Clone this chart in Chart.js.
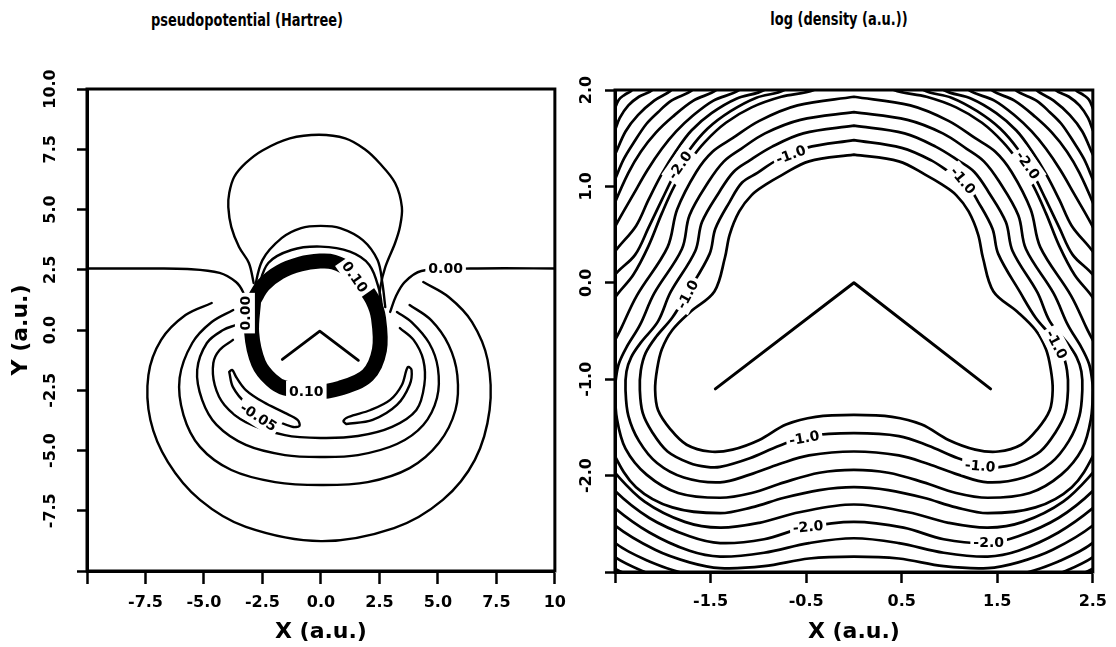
<!DOCTYPE html>
<html>
<head>
<meta charset="utf-8">
<script src="https://cdn.jsdelivr.net/npm/chart.js@4.4.0/dist/chart.umd.min.js"></script>
<style>
  body { margin: 0; background: #fff; width: 1116px; height: 647px; position: relative; overflow: hidden; }
  canvas { position: absolute; top: 0; }
  #potChart { left: 0; }
  #rhoChart { left: 575px; }
  .ttl { position: absolute; transform: translate(-50%, -50%) scaleX(0.72); font: bold 18px "DejaVu Sans", sans-serif; white-space: nowrap; color: #000; }
</style>
</head>
<body>
<div class="ttl" style="left:247px; top:19px">pseudopotential (Hartree)</div>
<div class="ttl" style="left:839px; top:18px">log (density (a.u.))</div>
<canvas id="potChart" width="575" height="647"></canvas>
<canvas id="rhoChart" width="541" height="647"></canvas>
<script>
// ---- axes ----
const potTicks = [-10, -7.5, -5, -2.5, 0, 2.5, 5, 7.5, 10];
const potXLabels = ["", "-7.5", "-5.0", "-2.5", "0.0", "2.5", "5.0", "7.5", "10"];
const potYLabels = ["", "-7.5", "-5.0", "-2.5", "0.0", "2.5", "5.0", "7.5", "10.0"];
const rhoXTicks = [-2.5, -1.5, -0.5, 0.5, 1.5, 2.5];
const rhoXLabels = ["", "-1.5", "-0.5", "0.5", "1.5", "2.5"];
const rhoYTicks = [-3, -2, -1, 0, 1, 2];
const rhoYLabels = ["", "-2.0", "-1.0", "0.0", "1.0", "2.0"];

// ---- pseudopotential contours (a.u.) ----
const potZeroLeft = [[-10.5,2.55],[-7.4,2.55],[-5.71,2.53],[-4.33,2.37],[-3.63,1.99],[-3.33,1.58],[-3.25,1.24],[-3.22,0.0]];
const potZeroRight = [[2.96,0.75],[3.21,1.41],[3.58,1.99],[4.29,2.45],[6.4,2.55],[10.5,2.55]];
const potBubble = [[-2.875,1.95],[-3.08,2.78],[-3.5,3.44],[-3.83,4.27],[-3.96,5.10],[-3.92,5.68],[-3.71,6.35],[-3.21,6.93],[-2.5,7.45],[-1.33,7.95],[-0.08,8.1],[1.04,7.95],[1.875,7.5],[2.5,6.93],[3.17,6.10],[3.46,5.10],[3.375,4.27],[3.17,3.61],[2.75,2.61],[2.54,1.78],[2.5,1.24]];
const potArcA = [[-2.875,1.54],[-2.5,2.90],[-1.67,3.82],[-0.85,4.23],[-0.01,4.32],[0.82,4.23],[1.79,3.73],[2.42,2.90],[2.625,1.95],[2.75,0.95]];
const potArcB = [[-2.72,1.66],[-2.25,2.78],[-1.26,3.32],[-0.01,3.46],[1.24,3.25],[2.07,2.70],[2.49,1.66],[2.625,0.83]];
const potRing = [[-2.875,1.24],[-2.96,-0.12],[-2.67,-1.37],[-2.125,-2.07],[-1.54,-2.41],[-0.29,-2.57],[0.83,-2.41],[2.0,-1.87],[2.5,-0.83],[2.46,0.50],[2.21,1.24],[1.79,1.85],[1.29,2.45],[0.54,2.82],[-0.04,2.86],[-0.875,2.74],[-1.75,2.41],[-2.46,1.87],[-2.875,1.24]];
const potU1 = [[-4.67,1.12],[-5.79,0.62],[-6.83,-0.41],[-7.375,-1.87],[-7.29,-3.73],[-6.54,-5.48],[-5.17,-7.05],[-3.21,-8.17],[0,-8.76],[3.125,-8.22],[5.21,-7.05],[6.58,-5.39],[7.21,-3.32],[7.125,-1.24],[6.46,0.33],[5.46,1.37],[4.375,1.99]];
const potU2 = [[-3.75,0.83],[-4.67,0.33],[-5.5,-0.54],[-6.04,-1.99],[-5.875,-3.53],[-5.17,-4.85],[-3.83,-5.81],[-1.96,-6.31],[0,-6.43],[2.0,-6.31],[3.79,-5.73],[5.04,-4.69],[5.75,-3.32],[5.83,-1.87],[5.46,-0.62],[4.71,0.41],[3.79,1.04]];
const potU3 = [[-3.625,0.21],[-4.18,0],[-4.875,-0.54],[-5.29,-1.66],[-5.08,-2.90],[-4.46,-3.94],[-3.21,-4.77],[-1.54,-5.19],[0,-5.27],[1.58,-5.19],[3.25,-4.73],[4.375,-3.94],[4.96,-2.82],[5.0,-1.58],[4.625,-0.54],[3.875,0.33],[3.25,0.75]];
const potU4 = [[-3.76,-0.41],[-4.33,-0.83],[-4.6,-1.37],[-4.54,-2.28],[-4.125,-3.11],[-3.21,-3.82],[-1.54,-4.36],[0,-4.48],[1.58,-4.40],[3.04,-4.02],[4.08,-3.32],[4.42,-2.28],[4.375,-1.24],[3.96,-0.41],[3.375,0.08]];
const potLobeL = [[-3.92,-1.74],[-3.76,-2.37],[-3.21,-3.03],[-2.25,-3.60],[-1.25,-4.01],[-0.92,-3.98],[-1.0,-3.73],[-1.54,-3.44],[-2.46,-2.99],[-3.21,-2.49],[-3.625,-1.95],[-3.79,-1.66],[-3.92,-1.74]];
const potLobeR = [[1.08,-3.90],[2.21,-3.73],[3.25,-3.11],[3.79,-2.28],[3.875,-1.66],[3.71,-1.54],[3.46,-2.28],[2.96,-2.90],[2.125,-3.32],[1.17,-3.61],[0.96,-3.78],[1.08,-3.90]];
const potMolecule = [[-1.65,-1.22],[-0.05,-0.05],[1.6,-1.26]];
const potLabels = [["0.00",5.33,2.55,0],["0.00",-3.25,0.70,-90],["0.10",1.45,2.2,55],["0.10",-0.625,-2.53,0],["-0.05",-2.67,-3.61,33]];

// ---- log density contours (a.u.) ----
const rho0 = [[0,1.33],[-0.47,1.26],[-0.75,1.12],[-0.92,1.02],[-1.07,0.91],[-1.20,0.74],[-1.30,0.50],[-1.35,0.26],[-1.46,-0.09],[-1.71,-0.30],[-1.90,-0.49],[-2.01,-0.69],[-2.06,-0.90],[-2.08,-1.11],[-2.05,-1.32],[-1.92,-1.52],[-1.75,-1.68],[-1.51,-1.75],[-1.27,-1.73],[-0.99,-1.63],[-0.71,-1.47],[-0.40,-1.39],[0,-1.37],
  [0.40,-1.39],[0.71,-1.47],[0.99,-1.63],[1.27,-1.73],[1.51,-1.75],[1.75,-1.68],[1.92,-1.52],[2.05,-1.32],[2.08,-1.11],[2.06,-0.90],[2.01,-0.69],[1.90,-0.49],[1.71,-0.30],[1.46,-0.09],[1.35,0.26],[1.30,0.50],[1.20,0.74],[1.07,0.91],[0.92,1.02],[0.75,1.12],[0.47,1.26],[0,1.33]];
const rho1 = [[0,1.48],[-0.50,1.40],[-0.81,1.27],[-1.01,1.14],[-1.17,1.04],[-1.30,0.84],[-1.45,0.56],[-1.51,0.30],[-1.74,-0.10],[-1.90,-0.36],[-2.07,-0.56],[-2.18,-0.73],[-2.23,-0.91],[-2.24,-1.11],[-2.21,-1.35],[-2.11,-1.55],[-1.95,-1.75],[-1.72,-1.87],[-1.54,-1.91],[-1.40,-1.91],[-1.09,-1.82],[-0.78,-1.69],[-0.47,-1.59],[0,-1.56],
  [0.47,-1.59],[0.78,-1.69],[1.09,-1.82],[1.40,-1.91],[1.54,-1.91],[1.72,-1.87],[1.95,-1.75],[2.11,-1.55],[2.21,-1.35],[2.24,-1.11],[2.23,-0.91],[2.18,-0.73],[2.07,-0.56],[1.90,-0.36],[1.74,-0.10],[1.51,0.30],[1.45,0.56],[1.30,0.84],[1.17,1.04],[1.01,1.14],[0.81,1.27],[0.50,1.40],[0,1.48]];
const rho2 = [[0,1.63],[-0.53,1.55],[-0.86,1.41],[-1.09,1.27],[-1.26,1.15],[-1.41,0.94],[-1.59,0.63],[-1.66,0.33],[-1.92,-0.10],[-2.05,-0.40],[-2.23,-0.62],[-2.33,-0.77],[-2.38,-0.92],[-2.39,-1.11],[-2.36,-1.38],[-2.25,-1.64],[-2.06,-1.87],[-1.78,-2.02],[-1.40,-2.07],[-1.09,-1.99],[-0.78,-1.88],[-0.47,-1.79],[0,-1.75],
  [0.47,-1.79],[0.78,-1.88],[1.09,-1.99],[1.40,-2.07],[1.78,-2.02],[2.06,-1.87],[2.25,-1.64],[2.36,-1.38],[2.39,-1.11],[2.38,-0.92],[2.33,-0.77],[2.23,-0.62],[2.05,-0.40],[1.92,-0.10],[1.66,0.33],[1.59,0.63],[1.41,0.94],[1.26,1.15],[1.09,1.27],[0.86,1.41],[0.53,1.55],[0,1.63]];
const rho3 = [[0,1.77],[-0.56,1.69],[-0.93,1.55],[-1.18,1.39],[-1.36,1.26],[-1.52,1.05],[-1.72,0.70],[-1.80,0.35],[-2.09,-0.11],[-2.24,-0.44],[-2.38,-0.67],[-2.46,-0.84],[-2.49,-0.99],[-2.50,-1.11],[-2.48,-1.41],[-2.39,-1.72],[-2.17,-1.99],[-1.84,-2.18],[-1.40,-2.23],[-1.07,-2.18],[-0.73,-2.07],[-0.36,-1.97],[0,-1.94],
  [0.36,-1.97],[0.73,-2.07],[1.07,-2.18],[1.40,-2.23],[1.84,-2.18],[2.17,-1.99],[2.39,-1.72],[2.48,-1.41],[2.50,-1.11],[2.49,-0.99],[2.46,-0.84],[2.38,-0.67],[2.24,-0.44],[2.09,-0.11],[1.80,0.35],[1.72,0.70],[1.52,1.05],[1.36,1.26],[1.18,1.39],[0.93,1.55],[0.56,1.69],[0,1.77]];
const rho4 = [[0,1.93],[-0.59,1.84],[-0.99,1.68],[-1.27,1.50],[-1.48,1.36],[-1.65,1.15],[-1.85,0.76],[-1.95,0.37],[-2.27,-0.13],[-2.43,-0.46],[-2.59,-0.80],[-2.66,-1.16],[-2.59,-1.52],[-2.51,-1.78],[-2.28,-2.12],[-1.90,-2.33],[-1.40,-2.39],[-1.07,-2.33],[-0.73,-2.23],[-0.36,-2.15],[0,-2.12],
  [0.36,-2.15],[0.73,-2.23],[1.07,-2.33],[1.40,-2.39],[1.90,-2.33],[2.28,-2.12],[2.51,-1.78],[2.59,-1.52],[2.66,-1.16],[2.59,-0.80],[2.43,-0.46],[2.27,-0.13],[1.95,0.37],[1.85,0.76],[1.65,1.15],[1.48,1.36],[1.27,1.50],[0.99,1.68],[0.59,1.84],[0,1.93]];
const rho5 = [[-0.31,2.11],[-0.42,2.0],[-0.76,1.93],[-1.07,1.82],[-1.34,1.66],[-1.56,1.46],[-1.72,1.26],[-1.875,1.01],[-2.01,0.72],[-2.15,0.38],[-2.31,0.08],[-2.51,-0.17],[-2.71,-0.59],[-2.76,-1.21],[-2.69,-1.73],[-2.51,-1.96],[-2.19,-2.27],[-1.77,-2.48],[-1.40,-2.54],[-0.99,-2.49],[-0.57,-2.38],[0,-2.30],
  [0.57,-2.38],[0.99,-2.49],[1.40,-2.54],[1.77,-2.48],[2.19,-2.27],[2.51,-1.96],[2.69,-1.73],[2.76,-1.21],[2.71,-0.59],[2.51,-0.17],[2.31,0.08],[2.15,0.38],[2.01,0.72],[1.875,1.01],[1.72,1.26],[1.56,1.46],[1.34,1.66],[1.07,1.82],[0.76,1.93],[0.42,2.0],[0.31,2.11]];
const rho6 = [[-0.68,2.11],[-0.73,2.0],[-1.02,1.92],[-1.29,1.78],[-1.53,1.60],[-1.72,1.38],[-1.875,1.13],[-2.01,0.86],[-2.15,0.57],[-2.29,0.29],[-2.51,0.07],[-2.76,-0.38],[-2.86,-1.21],[-2.76,-1.84],[-2.51,-2.15],[-2.14,-2.44],[-1.72,-2.63],[-1.40,-2.70],[-0.94,-2.66],[-0.52,-2.54],[0,-2.48],
  [0.52,-2.54],[0.94,-2.66],[1.40,-2.70],[1.72,-2.63],[2.14,-2.44],[2.51,-2.15],[2.76,-1.84],[2.86,-1.21],[2.76,-0.38],[2.51,0.07],[2.29,0.29],[2.15,0.57],[2.01,0.86],[1.875,1.13],[1.72,1.38],[1.53,1.60],[1.29,1.78],[1.02,1.92],[0.73,2.0],[0.68,2.11]];
const rho7 = [[-0.885,2.11],[-0.94,2.0],[-1.23,1.91],[-1.49,1.76],[-1.70,1.58],[-1.86,1.37],[-2.01,1.13],[-2.15,0.86],[-2.28,0.59],[-2.51,0.31],[-2.81,-0.18],[-2.97,-1.21],[-2.81,-2.04],[-2.51,-2.33],[-2.14,-2.59],[-1.72,-2.78],[-1.40,-2.84],[-0.94,-2.80],[-0.47,-2.70],[0,-2.65],
  [0.47,-2.70],[0.94,-2.80],[1.40,-2.84],[1.72,-2.78],[2.14,-2.59],[2.51,-2.33],[2.81,-2.04],[2.97,-1.21],[2.81,-0.18],[2.51,0.31],[2.28,0.59],[2.15,0.86],[2.01,1.13],[1.86,1.37],[1.70,1.58],[1.49,1.76],[1.23,1.91],[0.94,2.0],[0.885,2.11]];
const rho8 = [[-1.15,2.11],[-1.20,2.0],[-1.47,1.89],[-1.69,1.73],[-1.86,1.57],[-2.01,1.39],[-2.16,1.17],[-2.30,0.93],[-2.51,0.56],[-2.86,-0.18],[-3.02,-1.21],[-2.86,-2.15],[-2.51,-2.51],[-2.08,-2.77],[-1.72,-2.90],[-1.40,-2.96],[-0.94,-2.94],[-0.47,-2.86],[0,-2.84],
  [0.47,-2.86],[0.94,-2.94],[1.40,-2.96],[1.72,-2.90],[2.08,-2.77],[2.51,-2.51],[2.86,-2.15],[3.02,-1.21],[2.86,-0.18],[2.51,0.56],[2.30,0.93],[2.16,1.17],[2.01,1.39],[1.86,1.57],[1.69,1.73],[1.47,1.89],[1.20,2.0],[1.15,2.11]];
const rho9 = [[-1.39,2.11],[-1.44,2.0],[-1.68,1.89],[-1.90,1.72],[-2.07,1.56],[-2.23,1.36],[-2.36,1.14],[-2.51,0.81],[-2.92,-0.18],[-3.125,-1.21],[-2.92,-2.25],[-2.51,-2.69],[-2.14,-2.89],[-1.72,-3.03],[-1.20,-3.13],[-0.57,-3.10],[0,-3.08],
  [0.57,-3.10],[1.20,-3.13],[1.72,-3.03],[2.14,-2.89],[2.51,-2.69],[2.92,-2.25],[3.125,-1.21],[2.92,-0.18],[2.51,0.81],[2.36,1.14],[2.23,1.36],[2.07,1.56],[1.90,1.72],[1.68,1.89],[1.44,2.0],[1.39,2.11]];
const rho10 = [[-1.64,2.11],[-1.69,2.0],[-1.91,1.89],[-2.05,1.77],[-2.17,1.65],[-2.30,1.46],[-2.41,1.28],[-2.51,1.05],[-2.97,0.03],[-3.23,-1.21],[-2.97,-2.46],[-2.51,-2.84],[-2.19,-3.0],[-1.82,-3.13],[-0.99,-3.24],[0,-3.21],
  [0.99,-3.24],[1.82,-3.13],[2.19,-3.0],[2.51,-2.84],[2.97,-2.46],[3.23,-1.21],[2.97,0.03],[2.51,1.05],[2.41,1.28],[2.30,1.46],[2.17,1.65],[2.05,1.77],[1.91,1.89],[1.69,2.0],[1.64,2.11]];
const rho11 = [[-1.85,2.11],[-1.91,2.0],[-2.09,1.89],[-2.26,1.74],[-2.39,1.57],[-2.51,1.31],[-3.07,0.24],[-3.33,-1.21],[-3.02,-2.67],[-2.51,-2.96],[-2.36,-3.03],[-1.82,-3.24],[0,-3.34],
  [1.82,-3.24],[2.36,-3.03],[2.51,-2.96],[3.02,-2.67],[3.33,-1.21],[3.07,0.24],[2.51,1.31],[2.39,1.57],[2.26,1.74],[2.09,1.89],[1.91,2.0],[1.85,2.11]];
const rho12L = [[-2.07,2.11],[-2.11,2.0],[-2.25,1.93],[-2.36,1.84],[-2.45,1.71],[-2.51,1.56],[-2.66,1.28]];
const rho12R = [[2.07,2.11],[2.11,2.0],[2.25,1.93],[2.36,1.84],[2.45,1.71],[2.51,1.56],[2.66,1.28]];
const rho13L = [[-2.28,2.11],[-2.32,2.0],[-2.40,1.95],[-2.46,1.90],[-2.51,1.79],[-2.61,1.64]];
const rho13R = [[2.28,2.11],[2.32,2.0],[2.40,1.95],[2.46,1.90],[2.51,1.79],[2.61,1.64]];
const rhoMolecule = [[-1.45,-1.10],[0,0],[1.43,-1.10]];
const rhoLabels = [["-1.0",-0.66,1.33,-20],["-2.0",-1.82,1.22,-55],["-1.0",1.14,1.06,50],["-2.0",1.82,1.22,55],["-1.0",-1.74,-0.12,-62],["-1.0",2.12,-0.64,62],["-1.0",-0.52,-1.61,-10],["-1.0",1.32,-1.90,5],["-2.0",-0.48,-2.53,-5],["-2.0",1.41,-2.69,0]];

const fontFamily = "'DejaVu Sans', sans-serif";
const tickFont = { family: fontFamily, size: 16, weight: "bold" };
const titleFont = { family: fontFamily, size: 22, weight: "bold" };

function curve(pts, width, tension = 0.35) {
  return {
    data: pts.map(([x, y]) => ({ x, y })),
    showLine: true, fill: false, pointRadius: 0,
    borderColor: "#000", borderWidth: width,
    borderCapStyle: "round", borderJoinStyle: "round",
    tension
  };
}

function makeAxis(min, max, values, labels, o) {
  const vertical = o.position === "left";
  return {
    type: "linear", min, max, position: o.position,
    afterBuildTicks: s => { s.ticks = values.map(v => ({ value: v })); },
    afterFit: s => { if (vertical) s.width = o.size; else s.height = o.size; },
    ticks: {
      autoSkip: false, color: "#000", font: tickFont, padding: o.pad,
      minRotation: vertical ? 90 : 0, maxRotation: vertical ? 90 : 0,
      crossAlign: vertical ? "center" : "near",
      callback: (v, i) => labels[i]
    },
    grid: { drawOnChartArea: false, drawTicks: true, tickLength: o.tick, tickWidth: 2.5, tickColor: "#000" },
    border: { display: true, color: "#000", width: 3 },
    title: o.title
      ? { display: true, text: o.title, color: "#000", font: titleFont, padding: o.titlePad }
      : { display: false }
  };
}

const contourLabels = {
  id: "contourLabels",
  afterDatasetsDraw(chart, args, opts) {
    const { ctx, scales: { x, y } } = chart;
    ctx.save();
    ctx.font = "bold 14px " + fontFamily;
    ctx.textAlign = "center";
    ctx.textBaseline = "middle";
    (opts.items || []).forEach(([txt, vx, vy, rot]) => {
      const w = ctx.measureText(txt).width + 6;
      ctx.save();
      ctx.translate(x.getPixelForValue(vx), y.getPixelForValue(vy));
      ctx.rotate(rot * Math.PI / 180);
      ctx.fillStyle = "#fff";
      ctx.fillRect(-w / 2, -10, w, 20);
      ctx.fillStyle = "#000";
      ctx.fillText(txt, 0, 1);
      ctx.restore();
    });
    ctx.restore();
  }
};

const frameBox = {
  id: "frameBox",
  afterDraw(chart) {
    const { ctx, chartArea: a } = chart;
    ctx.save();
    ctx.strokeStyle = "#000";
    ctx.lineWidth = 3;
    ctx.strokeRect(a.left, a.top, a.right - a.left, a.bottom - a.top);
    ctx.restore();
  }
};

const baseOptions = {
  responsive: false,
  animation: false,
  events: [],
  plugins: { legend: { display: false }, tooltip: { enabled: false }, title: { display: false } }
};

new Chart(document.getElementById("potChart").getContext("2d"), {
  type: "scatter",
  data: {
    datasets: [
      curve(potZeroLeft, 2.4), curve(potZeroRight, 2.4), curve(potBubble, 2.4),
      curve(potArcA, 2.4), curve(potArcB, 2.4), curve(potRing, 15),
      curve(potU1, 2.4), curve(potU2, 2.4), curve(potU3, 2.4), curve(potU4, 2.4),
      curve(potLobeL, 2.4), curve(potLobeR, 2.4), curve(potMolecule, 2.8, 0)
    ]
  },
  options: {
    ...baseOptions,
    layout: { padding: { left: 0, right: 8, top: 89, bottom: 0 }, autoPadding: false },
    plugins: { ...baseOptions.plugins, contourLabels: { items: potLabels } },
    scales: {
      x: makeAxis(-10, 10, potTicks, potXLabels, { position: "bottom", size: 76, pad: 9, tick: 13, title: "X (a.u.)", titlePad: { top: 0, bottom: 2 } }),
      y: makeAxis(-10, 10, potTicks, potYLabels, { position: "left", size: 87, pad: 6, tick: 10, title: "Y (a.u.)", titlePad: { top: 8, bottom: 0 } })
    }
  },
  plugins: [contourLabels, frameBox]
});

new Chart(document.getElementById("rhoChart").getContext("2d"), {
  type: "scatter",
  data: {
    datasets: [rho0, rho1, rho2, rho3, rho4, rho5, rho6, rho7, rho8, rho9, rho10, rho11, rho12L, rho12R, rho13L, rho13R]
      .map(c => curve(c, 2.7))
      .concat([curve(rhoMolecule, 3, 0)])
  },
  options: {
    ...baseOptions,
    layout: { padding: { left: 0, right: 21, top: 90, bottom: 0 }, autoPadding: false },
    plugins: { ...baseOptions.plugins, contourLabels: { items: rhoLabels } },
    scales: {
      x: makeAxis(-2.5, 2.5, rhoXTicks, rhoXLabels, { position: "bottom", size: 75, pad: 9, tick: 11, title: "X (a.u.)", titlePad: { top: 0, bottom: 2 } }),
      y: makeAxis(-3, 2, rhoYTicks, rhoYLabels, { position: "left", size: 40, pad: 1, tick: 10 })
    }
  },
  plugins: [contourLabels, frameBox]
});
</script>
</body>
</html>
